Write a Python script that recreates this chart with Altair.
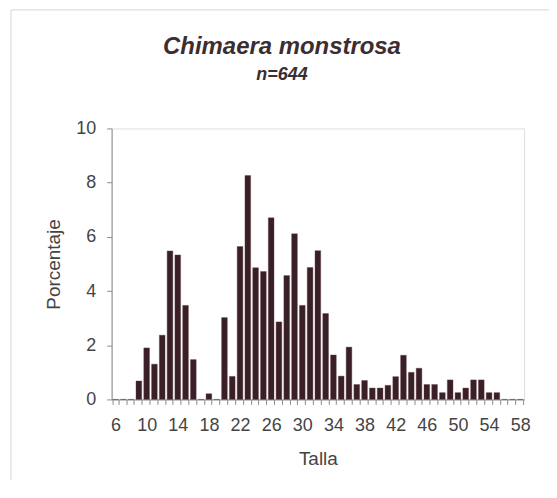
import altair as alt
import pandas as pd

tallas = list(range(6, 59))
porcentaje = [0, 0, 0, 0.68, 1.9, 1.3, 2.37, 5.48, 5.33, 3.47, 1.47, 0, 0.21, 0,
              3.02, 0.85, 5.64, 8.26, 4.86, 4.72, 6.7, 2.86, 4.57, 6.11, 3.47,
              4.87, 5.49, 3.17, 1.64, 0.86, 1.93, 0.55, 0.7, 0.42, 0.42, 0.52,
              0.84, 1.63, 1.0, 1.15, 0.55, 0.55, 0.25, 0.72, 0.25, 0.42, 0.72,
              0.72, 0.25, 0.25, 0, 0, 0]
y_ticks = [0, 2, 4, 6, 8, 10]
titulo = "Chimaera monstrosa"
subtitulo = "n=644"

df = pd.DataFrame({"Talla": tallas, "Porcentaje": porcentaje})

TEXT = "#444444"
AXIS = "#8c8c8c"
BAR = "#3b1f26"
TITLE = "#3c2e30"
FONT = "Liberation Sans"

bars = alt.Chart(df).mark_bar(color=BAR, stroke="#5a4045", strokeWidth=0.4).encode(
    x=alt.X("Talla:O",
            scale=alt.Scale(domain=tallas, paddingInner=0.27, paddingOuter=0.135),
            axis=alt.Axis(title="Talla", labelAngle=0,
                          labelExpr="datum.value % 4 == 2 ? datum.label : ''",
                          tickBand="extent", tickSize=5, tickColor=AXIS,
                          domainColor=AXIS, labelFontSize=18, labelColor=TEXT,
                          labelFont=FONT, labelPadding=12, titleFont=FONT,
                          titleFontSize=19, titleFontWeight="normal",
                          titleColor=TEXT, titlePadding=15)),
    y=alt.Y("Porcentaje:Q",
            scale=alt.Scale(domain=[0, 10]),
            axis=alt.Axis(title="Porcentaje", values=y_ticks, grid=False,
                          tickSize=5, tickColor=AXIS, domainColor=AXIS,
                          labelFontSize=18, labelColor=TEXT, labelFont=FONT,
                          labelPadding=11, titleFont=FONT, titleFontSize=19,
                          titleFontWeight="normal", titleColor=TEXT,
                          titlePadding=12)),
)

title_mark = alt.Chart(pd.DataFrame({"t": [titulo]})).mark_text(
    font=FONT, fontSize=24, fontStyle="italic", fontWeight="bold",
    color=TITLE, align="center", baseline="alphabetic"
).encode(x=alt.value(171), y=alt.value(-75), text="t:N")

subtitle_mark = alt.Chart(pd.DataFrame({"t": [subtitulo]})).mark_text(
    font=FONT, fontSize=18, fontStyle="italic", fontWeight="bold",
    color=TITLE, align="center", baseline="alphabetic"
).encode(x=alt.value(171), y=alt.value(-49), text="t:N")

frame_v = alt.Chart(pd.DataFrame({"k": [0]})).mark_rule(color="#d6d6d6", strokeWidth=1).encode(
    x=alt.value(-101), y=alt.value(-119), y2=alt.value(500))
frame_h = alt.Chart(pd.DataFrame({"k": [0]})).mark_rule(color="#d6d6d6", strokeWidth=1).encode(
    x=alt.value(-101), x2=alt.value(600), y=alt.value(-119))

chart = alt.layer(frame_v, frame_h, title_mark, subtitle_mark, bars).properties(
    width=414,
    height=272,
    autosize=alt.AutoSizeParams(type="none"),
    padding={"left": 104, "top": 120, "right": 25, "bottom": 80},
).configure_view(stroke=None).configure(background="white")

chart.save("out.html", embed_options={"renderer": "svg", "actions": False})
